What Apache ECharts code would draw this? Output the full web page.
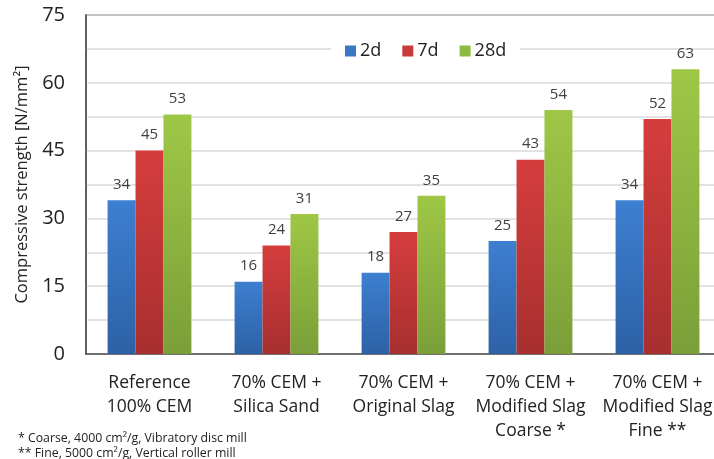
<!DOCTYPE html>
<html>
<head>
<meta charset="utf-8">
<script src="https://cdn.jsdelivr.net/npm/echarts@6/dist/echarts.min.js"></script>
<style>
  html, body { margin: 0; padding: 0; background: #fff; }
  #chart { width: 714px; height: 459px; }
</style>
</head>
<body>
<div id="chart"></div>
<script>
// Compressive strength of mortar mixes at 2, 7 and 28 days
const categories = [
  'Reference\n100% CEM',
  '70% CEM +\nSilica Sand',
  '70% CEM +\nOriginal Slag',
  '70% CEM +\nModified Slag\nCoarse *',
  '70% CEM +\nModified Slag\nFine **'
];
const seriesNames = ['2d', '7d', '28d'];
const strength2d = [34, 16, 18, 25, 34];
const strength7d = [45, 24, 27, 43, 52];
const strength28d = [53, 31, 35, 54, 63];
const yTicks = [0, 15, 30, 45, 60, 75];
const footnotes = [
  '* Coarse, 4000 cm²/g, Vibratory disc mill',
  '** Fine, 5000 cm²/g, Vertical roller mill'
];

const FONT = '"Open Sans", "Noto Sans", sans-serif';

function grad(top, bottom) {
  return new echarts.graphic.LinearGradient(0, 0, 0, 1, [
    { offset: 0, color: top },
    { offset: 1, color: bottom }
  ]);
}
const fills = [
  grad('#3d7fd0', '#2d61a6'),
  grad('#d63d3d', '#a72f2f'),
  grad('#9fc746', '#7a9f39')
];
const legendColors = ['#3a78c6', '#c93a3a', '#8fba41'];
const values = [strength2d, strength7d, strength28d];

const chart = echarts.init(document.getElementById('chart'), null, { renderer: 'canvas' });

chart.setOption({
  animation: false,
  backgroundColor: '#ffffff',
  grid: {
    left: 86, top: 15, bottom: 105, width: 635,
    outerBoundsMode: 'none',
    show: true, borderColor: '#555555', borderWidth: 1.5,
    containLabel: false
  },
  legend: {
    data: seriesNames.map((n, i) => ({ name: n, itemStyle: { color: legendColors[i] } })),
    top: 38,
    left: 331,
    itemWidth: 11,
    itemHeight: 11,
    itemGap: 21,
    icon: 'rect',
    padding: [4, 14, 4, 14],
    backgroundColor: '#ffffff',
    textStyle: { fontFamily: FONT, fontSize: 18, color: '#222', padding: [0, 0, 0, -1] }
  },
  xAxis: {
    type: 'category',
    data: categories,
    axisLine: { show: true, lineStyle: { color: '#555555', width: 1.5 } },
    axisTick: { show: false },
    axisLabel: {
      interval: 0,
      margin: 17,
      fontFamily: FONT,
      fontSize: 17.5,
      lineHeight: 24,
      color: '#222',
      hideOverlap: false
    }
  },
  yAxis: {
    type: 'value',
    min: yTicks[0],
    max: yTicks[yTicks.length - 1],
    interval: yTicks[1] - yTicks[0],
    name: 'Compressive strength [N/mm²]',
    nameLocation: 'middle',
    nameGap: 53,
    nameTextStyle: { fontFamily: FONT, fontSize: 16.5, color: '#222' },
    axisLine: { show: true, lineStyle: { color: '#555555', width: 1.5 } },
    axisTick: { show: false },
    axisLabel: { margin: 21, fontFamily: FONT, fontSize: 20, color: '#222' },
    splitLine: { show: true, lineStyle: { color: '#d9d9d9', width: 1.5 } },
    minorTick: { show: false, splitNumber: 2 },
    minorSplitLine: { show: true, lineStyle: { color: '#d9d9d9', width: 1.5 } }
  },
  series: seriesNames.map((name, i) => ({
    name: name,
    type: 'bar',
    data: values[i],
    barGap: '0%',
    barCategoryGap: '34%',
    itemStyle: { color: fills[i] },
    label: {
      show: true,
      position: 'top',
      distance: 8,
      fontFamily: FONT,
      fontSize: 15,
      color: '#404040'
    },
    z: 3
  })),
  graphic: footnotes.map((t, i) => ({
    type: 'text',
    left: 18,
    top: 432 + i * 15,
    style: { text: t, fontFamily: FONT, fontSize: 12.3, fill: '#222' }
  }))
});
</script>
</body>
</html>
